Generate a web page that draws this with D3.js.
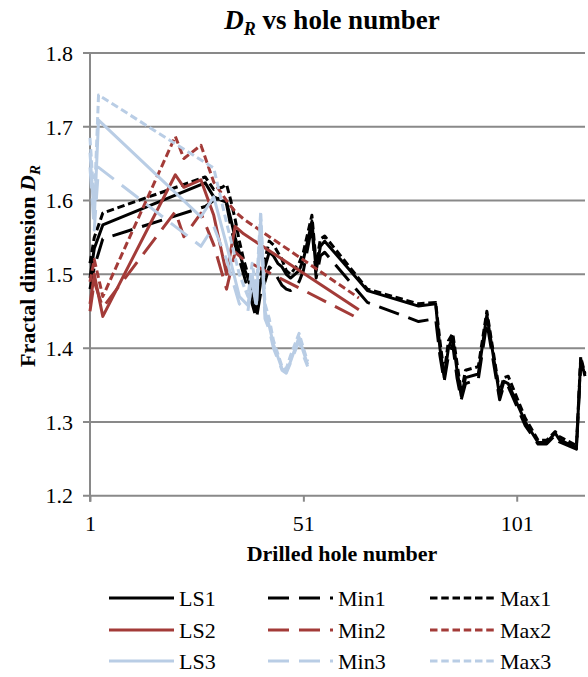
<!DOCTYPE html>
<html>
<head>
<meta charset="utf-8">
<script src="https://cdn.jsdelivr.net/npm/d3@7"></script>
<style>
  body { margin: 0; background: #fff; }
  svg { display: block; }
  svg text { font-family: "Liberation Serif", "Times New Roman", serif !important; fill: #000; }
</style>
</head>
<body>
<svg id="chart" width="588" height="677"></svg>
<script>
// ---- data: fractal dimension D_R per drilled hole ----
const holes1 = [1, 2, 4, 28, 30, 32, 33, 34, 35, 36, 37, 38, 39, 40, 41, 42, 43, 44, 45, 46, 47, 48, 49, 50,
                51, 52, 53, 54, 55, 56, 66, 78, 82, 83, 84, 85, 86, 87, 88, 89, 92, 94, 97, 98, 99, 103,
                106, 108, 110, 111, 115, 116, 117];
const ls1 = [1.495, 1.535, 1.567, 1.624, 1.605, 1.600, 1.598, 1.575, 1.550, 1.530, 1.510, 1.495, 1.475, 1.450,
             1.490, 1.510, 1.530, 1.525, 1.515, 1.510, 1.500, 1.495, 1.500, 1.505, 1.520, 1.545, 1.572, 1.505,
             1.538, 1.545, 1.478, 1.457, 1.460, 1.400, 1.360, 1.400, 1.415, 1.370, 1.335, 1.360, 1.365, 1.445,
             1.335, 1.355, 1.352, 1.300, 1.272, 1.272, 1.285, 1.276, 1.265, 1.385, 1.362];
const min1 = [1.480, 1.510, 1.548, 1.592, 1.600, 1.605, 1.595, 1.565, 1.540, 1.520, 1.500, 1.480, 1.460, 1.440,
              1.475, 1.490, 1.510, 1.505, 1.495, 1.485, 1.480, 1.478, 1.482, 1.490, 1.505, 1.535, 1.565, 1.495,
              1.525, 1.530, 1.462, 1.436, 1.440, 1.390, 1.355, 1.390, 1.405, 1.360, 1.330, 1.352, 1.358, 1.435,
              1.330, 1.350, 1.348, 1.295, 1.270, 1.270, 1.282, 1.273, 1.263, 1.380, 1.358];
const max1 = [1.515, 1.550, 1.583, 1.632, 1.615, 1.618, 1.622, 1.600, 1.575, 1.545, 1.520, 1.500, 1.480, 1.455,
              1.500, 1.520, 1.545, 1.540, 1.530, 1.520, 1.505, 1.500, 1.508, 1.515, 1.530, 1.555, 1.580, 1.515,
              1.548, 1.552, 1.480, 1.460, 1.462, 1.410, 1.365, 1.410, 1.420, 1.380, 1.340, 1.370, 1.375, 1.450,
              1.340, 1.360, 1.362, 1.305, 1.275, 1.275, 1.287, 1.280, 1.268, 1.388, 1.365];

const holes2 = [1, 2, 4, 21, 23, 27, 30, 33, 35, 37, 64];
const ls2  = [1.460, 1.500, 1.443, 1.635, 1.618, 1.628, 1.580, 1.500, 1.565, 1.555, 1.452];
const min2 = [1.450, 1.490, 1.455, 1.585, 1.551, 1.583, 1.540, 1.480, 1.530, 1.520, 1.440];
const max2 = [1.490, 1.520, 1.470, 1.687, 1.657, 1.675, 1.625, 1.600, 1.585, 1.575, 1.468];

const holes3 = [1, 2, 3, 27, 30, 33, 36, 38, 39, 40, 41, 42, 43, 44, 46, 47, 48, 50, 51, 52];
const ls3  = [1.665, 1.575, 1.709, 1.578, 1.605, 1.540, 1.470, 1.458, 1.500, 1.460, 1.575, 1.450, 1.430, 1.405,
              1.372, 1.368, 1.382, 1.415, 1.395, 1.378];
const min3 = [1.645, 1.560, 1.645, 1.538, 1.565, 1.520, 1.460, 1.450, 1.490, 1.455, 1.565, 1.440, 1.425, 1.400,
              1.370, 1.366, 1.380, 1.410, 1.390, 1.375];
const holesMax3 = [1, 2, 3, 30, 33, 36, 38, 39, 40, 41, 42, 43, 44, 46, 47, 48, 50, 51, 52];
const max3 = [1.685, 1.595, 1.743, 1.644, 1.570, 1.500, 1.470, 1.515, 1.480, 1.585, 1.460, 1.440, 1.410,
              1.375, 1.372, 1.390, 1.420, 1.400, 1.382];

const seriesNames = ["LS1", "Min1", "Max1", "LS2", "Min2", "Max2", "LS3", "Min3", "Max3"];
const yTicks = [1.2, 1.3, 1.4, 1.5, 1.6, 1.7, 1.8];
const xTicks = [1, 51, 101];

// ---- styling ----
const FONT = '"Liberation Serif", "Times New Roman", serif';
const colors = { 1: "#000000", 2: "#A33B38", 3: "#B9CDE5" };
const dashes = { LS: null, Min: "21,10", Max: "7.5,3.75" };

const seriesData = [
  { holes: holes1, values: ls1,  grp: 1, kind: "LS" },
  { holes: holes1, values: min1, grp: 1, kind: "Min" },
  { holes: holes1, values: max1, grp: 1, kind: "Max" },
  { holes: holes2, values: ls2,  grp: 2, kind: "LS" },
  { holes: holes2, values: min2, grp: 2, kind: "Min" },
  { holes: holes2, values: max2, grp: 2, kind: "Max" },
  { holes: holes3, values: ls3,  grp: 3, kind: "LS" },
  { holes: holes3, values: min3, grp: 3, kind: "Min" },
  { holes: holesMax3, values: max3, grp: 3, kind: "Max" }
];
const series = seriesData.map((s, i) => ({ ...s, name: seriesNames[i] }));

const svg = d3.select("#chart");
const plot = { left: 90, right: 585, top: 53, bottom: 495.7 };

const x = d3.scaleLinear().domain([1, 117]).range([plot.left, plot.right]);
const y = d3.scaleLinear().domain([1.2, 1.8]).range([plot.bottom, plot.top]);

const gridColor = "#898989";

// horizontal gridlines (each with a short tick to the left of the axis)
svg.append("g")
  .selectAll("line")
  .data(yTicks)
  .join("line")
  .attr("x1", plot.left - 7)
  .attr("x2", plot.right)
  .attr("y1", d => y(d))
  .attr("y2", d => y(d))
  .attr("stroke", gridColor)
  .attr("stroke-width", 2);

// y axis labels
const yAxis = svg.append("g")
  .attr("transform", `translate(${plot.left},0)`)
  .attr("font-family", FONT)
  .call(d3.axisLeft(y).tickValues(yTicks).tickFormat(d3.format(".1f")).tickSize(7).tickPadding(10));
yAxis.select(".domain").remove();
yAxis.selectAll(".tick line").remove();
yAxis.selectAll(".tick text")
  .attr("font-family", FONT)
  .style("font-size", "22px")
  .attr("dy", "0.33em");

// vertical axis line (extends below as the first x tick)
svg.append("line")
  .attr("x1", plot.left).attr("x2", plot.left)
  .attr("y1", plot.top).attr("y2", plot.bottom + 6)
  .attr("stroke", gridColor).attr("stroke-width", 2);

// x axis
const xAxis = svg.append("g")
  .attr("transform", `translate(0,${plot.bottom})`)
  .attr("font-family", FONT)
  .call(d3.axisBottom(x).tickValues(xTicks).tickFormat(d3.format("d")).tickSize(6).tickPadding(14));
xAxis.select(".domain").remove();
xAxis.selectAll(".tick line").attr("stroke", gridColor).attr("stroke-width", 2);
xAxis.selectAll(".tick text")
  .attr("font-family", FONT)
  .style("font-size", "22px");

// data lines
const line = d3.line()
  .x(d => x(d[0]))
  .y(d => y(d[1]))
  .curve(d3.curveLinear);

svg.append("g")
  .selectAll("path")
  .data(series)
  .join("path")
  .attr("d", s => line(s.holes.map((h, i) => [h, s.values[i]])))
  .attr("fill", "none")
  .attr("stroke", s => colors[s.grp])
  .attr("stroke-width", 3)
  .attr("stroke-linejoin", "round")
  .attr("stroke-dasharray", s => dashes[s.kind]);

// title
const title = svg.append("text")
  .attr("x", 332).attr("y", 29)
  .attr("text-anchor", "middle")
  .attr("font-family", FONT)
  .style("font-size", "27px")
  .style("font-weight", "bold");
title.append("tspan").style("font-style", "italic").text("D");
title.append("tspan").style("font-style", "italic").style("font-size", "18px").attr("dy", 6).text("R");
title.append("tspan").attr("dy", -6).text(" vs hole number");

// axis titles
svg.append("text")
  .attr("x", 342).attr("y", 561)
  .attr("text-anchor", "middle")
  .attr("font-family", FONT)
  .style("font-size", "22px")
  .style("font-weight", "bold")
  .text("Drilled hole number");

const yTitle = svg.append("text")
  .attr("transform", "translate(35,266) rotate(-90)")
  .attr("text-anchor", "middle")
  .attr("font-family", FONT)
  .style("font-size", "22px")
  .style("font-weight", "bold");
yTitle.append("tspan").text("Fractal dimension ");
yTitle.append("tspan").style("font-style", "italic").text("D");
yTitle.append("tspan").style("font-style", "italic").style("font-size", "15px").attr("dy", 5).text("R");

// legend: three rows (one per group), three columns (LS, Min, Max)
const legendCols = { LS: 109, Min: 268, Max: 430 };
const legendRows = [598, 630, 661];
const legend = svg.append("g");
series.forEach(s => {
  const lx = legendCols[s.kind];
  const ly = legendRows[s.grp - 1];
  legend.append("line")
    .attr("x1", lx).attr("x2", lx + 65)
    .attr("y1", ly).attr("y2", ly)
    .attr("stroke", colors[s.grp])
    .attr("stroke-width", 3)
    .attr("stroke-dasharray", dashes[s.kind]);
  legend.append("text")
    .attr("x", lx + 70).attr("y", ly)
    .attr("dy", "0.35em")
    .attr("font-family", FONT)
    .style("font-size", "22px")
    .text(s.name);
});
</script>
</body>
</html>
